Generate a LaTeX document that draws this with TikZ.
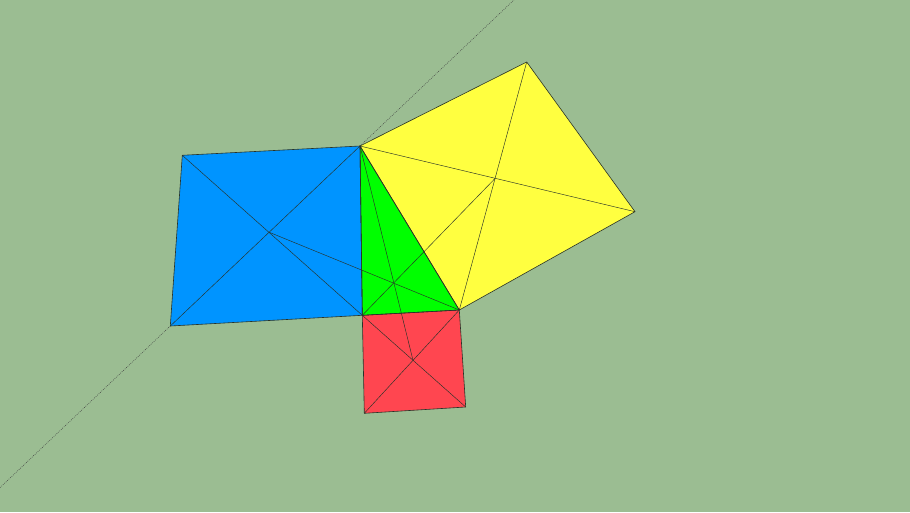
\documentclass[tikz,border=0pt]{standalone}
\definecolor{bg}{RGB}{155,189,146}
\definecolor{sqblue}{RGB}{0,148,255}
\definecolor{trigreen}{RGB}{0,255,0}
\definecolor{sqred}{RGB}{255,70,80}
\definecolor{sqyellow}{RGB}{255,255,64}
\definecolor{edge}{RGB}{40,50,40}
\begin{document}
\begin{tikzpicture}[x=1pt,y=-1pt,
  face/.style={draw=edge,line width=0.6pt,line join=round},
  diag/.style={draw=edge,line width=0.45pt},
  guide/.style={draw=black!75,line width=0.5pt,dash pattern=on 0.8pt off 1.2pt}]
\fill[bg] (0,0) rectangle (910,512);
\useasboundingbox (0,0) rectangle (910,512);
% vertices
\coordinate (A) at (360,146);
\coordinate (C) at (362.3,315.3);
\coordinate (B) at (459.3,310);
\coordinate (BTL) at (182.3,155.3);
\coordinate (BBL) at (170.3,326);
\coordinate (RBR) at (465.7,407);
\coordinate (RBL) at (364.3,413.3);
\coordinate (YT) at (526.7,62);
\coordinate (YR) at (635,211.7);
\coordinate (G0) at (0,487.6);
\coordinate (G1) at (513.9,0);
\coordinate (Bctr) at (269.3,232.3);
\coordinate (Rctr) at (413,360.3);
\coordinate (Yctr) at (495,178.5);
% faces
\fill[sqblue] (BTL) -- (A) -- (C) -- (BBL) -- cycle;
\fill[trigreen] (A) -- (B) -- (C) -- cycle;
\fill[sqred] (C) -- (B) -- (RBR) -- (RBL) -- cycle;
\fill[sqyellow] (A) -- (YT) -- (YR) -- (B) -- cycle;
% guide line
\draw[guide] (G0) -- (BBL);
\draw[guide] (A) -- (G1);
% diagonals
\draw[diag] (BTL) -- (C) (A) -- (BBL);
\draw[diag] (C) -- (RBR) (B) -- (RBL);
\draw[diag] (A) -- (YR) (YT) -- (B);
\draw[diag] (Bctr) -- (B);
\draw[diag] (A) -- (Rctr);
\draw[diag] (C) -- (Yctr);
% outlines
\draw[face] (BTL) -- (A) -- (C) -- (BBL) -- cycle;
\draw[face] (A) -- (B) -- (C) -- cycle;
\draw[face] (C) -- (B) -- (RBR) -- (RBL) -- cycle;
\draw[face] (A) -- (YT) -- (YR) -- (B) -- cycle;
\end{tikzpicture}
\end{document}
